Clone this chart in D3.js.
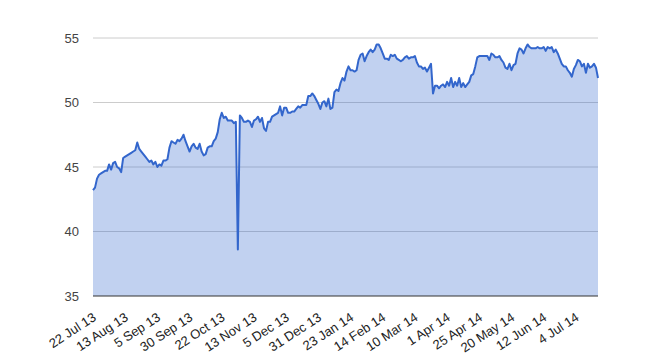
<!DOCTYPE html>
<html>
<head>
<meta charset="utf-8">
<script src="https://cdn.jsdelivr.net/npm/d3@7"></script>
<style>
  body { margin: 0; background: #fff; }
  text { font-family: Arial, "Liberation Sans", sans-serif; }
</style>
</head>
<body>
<script>
/* global d3 */

// one value per trading day
const values = [
  43.2, 43.4, 44.1, 44.4, 44.5, 44.6, 44.7, 44.7, 45.2, 44.8, 45.3, 45.4, 45.0, 44.9, 44.6, 45.7,
  45.8, 45.9, 46.0, 46.1, 46.2, 46.3, 46.9, 46.4, 46.2, 46.0, 45.8, 45.6, 45.4, 45.5, 45.2, 45.4,
  45.0, 45.2, 45.1, 45.5, 45.5, 45.6, 46.5, 47.0, 46.9, 46.8, 47.1, 47.0, 47.2, 47.5, 47.0, 46.6,
  46.2, 46.6, 46.8, 46.5, 46.4, 46.8, 46.2, 45.9, 46.0, 46.5, 46.6, 46.6, 47.0, 47.2, 47.7, 48.7,
  49.2, 48.8, 48.9, 48.6, 48.6, 48.6, 48.4, 48.5, 38.6, 49.0, 48.8, 48.5, 48.5, 48.6, 48.5, 48.1,
  48.6, 48.7, 48.9, 48.5, 48.8, 48.0, 47.8, 48.5, 48.5, 48.9, 49.0, 49.1, 49.2, 49.7, 49.0, 49.6,
  49.6, 49.2, 49.2, 49.3, 49.3, 49.5, 49.7, 49.6, 49.8, 49.8, 49.8, 50.5, 50.5, 50.7, 50.5, 50.2,
  49.9, 49.5, 50.0, 50.1, 49.7, 50.3, 49.5, 49.6, 50.8, 51.0, 50.9, 51.5, 51.9, 51.7, 52.4, 52.8,
  52.5, 52.5, 52.4, 52.5, 53.3, 53.7, 53.8, 53.2, 53.6, 53.9, 54.1, 53.9, 54.1, 54.5, 54.5, 54.2,
  53.8, 53.4, 53.4, 53.3, 53.7, 53.6, 53.7, 53.4, 53.3, 53.2, 53.3, 53.5, 53.6, 53.4, 53.5, 53.5,
  53.6, 53.1, 52.8, 52.8, 52.6, 52.7, 52.4, 52.7, 53.0, 50.7, 51.3, 51.3, 51.1, 51.3, 51.4, 51.2,
  51.6, 51.3, 51.9, 51.2, 51.6, 51.3, 51.9, 51.2, 51.5, 51.2, 51.4, 51.6, 52.1, 52.2, 52.8, 53.5,
  53.6, 53.6, 53.6, 53.6, 53.6, 53.3, 53.8, 53.7, 53.5, 53.5, 53.6, 53.3, 53.1, 52.7, 52.6, 53.0,
  52.5, 52.9, 53.0, 53.8, 54.2, 54.1, 53.8, 54.2, 54.5, 54.3, 54.2, 54.2, 54.2, 54.3, 54.2, 54.2,
  54.3, 54.0, 54.3, 54.2, 54.3, 53.9, 54.1, 53.8, 53.4, 53.0, 52.8, 52.8, 52.5, 52.3, 52.0, 52.6,
  52.9, 53.3, 53.2, 52.8, 53.0, 52.3, 53.0, 52.7, 52.8, 53.0, 52.7, 51.9
]

// x labels shown every 16th day
const tickLabels = [
  '22 Jul 13', '13 Aug 13', '5 Sep 13', '30 Sep 13', '22 Oct 13', '13 Nov 13',
  '5 Dec 13', '31 Dec 13', '23 Jan 14', '14 Feb 14', '10 Mar 14', '1 Apr 14',
  '25 Apr 14', '20 May 14', '12 Jun 14', '4 Jul 14'
]
const labelEvery = 16

const yTicks = [35, 40, 45, 50, 55]

const w = 650, h = 360
const margin = { top: 38, right: 52, bottom: 64, left: 93 }

const svg = d3.select('body').append('svg')
  .attr('width', w)
  .attr('height', h)

const x = d3.scalePoint()
  .domain(d3.range(values.length))
  .range([margin.left, w - margin.right])

const y = d3.scaleLinear()
  .domain([35, 55])
  .range([h - margin.bottom, margin.top])

// gridlines
svg.append('g')
  .selectAll('line')
  .data(yTicks.slice(1))
  .enter().append('line')
    .attr('x1', margin.left)
    .attr('x2', w - margin.right)
    .attr('y1', d => y(d))
    .attr('y2', d => y(d))
    .attr('stroke', '#cccccc')
    .attr('stroke-width', 1)

const area = d3.area()
  .x((d, i) => x(i))
  .y0(y(35))
  .y1(d => y(d))

const line = d3.line()
  .x((d, i) => x(i))
  .y(d => y(d))

svg.append('path')
  .datum(values)
  .attr('d', area)
  .attr('fill', '#3366cc')
  .attr('fill-opacity', 0.3)

svg.append('path')
  .datum(values)
  .attr('d', line)
  .attr('fill', 'none')
  .attr('stroke', '#3366cc')
  .attr('stroke-width', 2)
  .attr('stroke-linejoin', 'round')

// baseline
svg.append('line')
  .attr('x1', margin.left)
  .attr('x2', w - margin.right)
  .attr('y1', y(35))
  .attr('y2', y(35))
  .attr('stroke', '#333333')
  .attr('stroke-width', 1)

// y axis labels
svg.append('g')
  .selectAll('text')
  .data(yTicks)
  .enter().append('text')
    .attr('x', 79)
    .attr('y', d => y(d))
    .attr('dy', '0.35em')
    .attr('text-anchor', 'end')
    .attr('font-size', 13)
    .attr('fill', '#444444')
    .text(d => d)

// x axis labels, slanted
svg.append('g')
  .selectAll('text')
  .data(tickLabels)
  .enter().append('text')
    .attr('transform', (d, i) => `translate(${x(i * labelEvery) - 1}, 312) rotate(-33)`)
    .attr('dy', '0.7em')
    .attr('text-anchor', 'end')
    .attr('font-size', 13)
    .attr('fill', '#222222')
    .text(d => d)
</script>
</body>
</html>
